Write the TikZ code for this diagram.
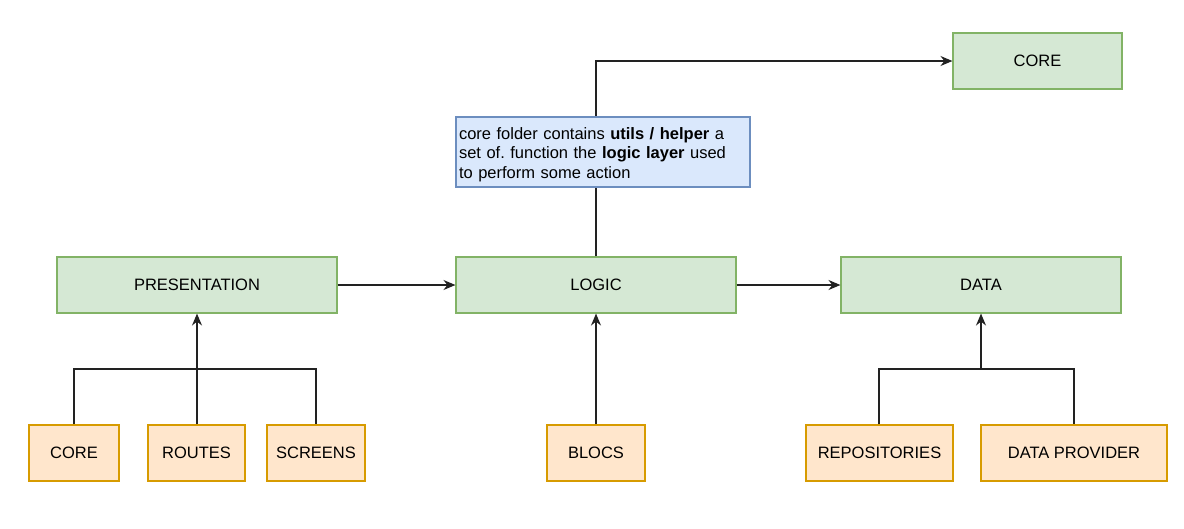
\documentclass[tikz,border=0pt]{standalone}
\usepackage{fontspec}
\setmainfont{Liberation Sans}
\usetikzlibrary{arrows.meta}
\definecolor{gfill}{HTML}{D5E8D4}
\definecolor{gline}{HTML}{82B366}
\definecolor{ofill}{HTML}{FFE6CC}
\definecolor{oline}{HTML}{D79B00}
\definecolor{bfill}{HTML}{DAE8FC}
\definecolor{bline}{HTML}{6C8EBF}
\definecolor{edge}{HTML}{222222}
\frenchspacing
\begin{document}
\begin{tikzpicture}[x=1pt,y=-1pt,
  box/.style={draw, line width=1.1pt, inner sep=0pt},
  green/.style={box, fill=gfill, draw=gline, minimum height=56pt, text depth=0pt, font=\fontsize{16.5}{19}\selectfont},
  orange/.style={box, fill=ofill, draw=oline, minimum height=56pt, text depth=0pt, font=\fontsize{16.5}{19}\selectfont},
  note/.style={box, fill=bfill, draw=bline, minimum width=294pt, minimum height=70pt, align=left, text width=288pt, font=\fontsize{16.5}{19.5}\selectfont},
  conn/.style={draw=edge, line width=1.5pt},
  arr/.style={conn, -{Stealth[length=12pt,width=10pt,inset=4pt]}}]
\useasboundingbox (0,0) rectangle (1184,528);
\node[green, minimum width=169pt] (core) at (1037.5,61) {CORE};
\node[green, minimum width=280pt] (pres) at (197,285) {PRESENTATION};
\node[green, minimum width=280pt] (logic) at (596,285) {LOGIC};
\node[green, minimum width=280pt] (data) at (981,285) {DATA};
\node[orange, minimum width=90pt] (pcore) at (74,453) {CORE};
\node[orange, minimum width=97pt] (routes) at (196.5,453) {ROUTES};
\node[orange, minimum width=98pt] (screens) at (316,453) {SCREENS};
\node[orange, minimum width=98pt] (blocs) at (596,453) {BLOCS};
\node[orange, minimum width=147pt] (repo) at (879.5,453) {REPOSITORIES};
\node[orange, minimum width=186pt] (prov) at (1074,453) {DATA PROVIDER};
\coordinate (lj) at (197,369);
\coordinate (rj) at (981,369);
\coordinate (rl) at (879,369);
\draw[conn] (pcore.north) |- (lj) -| (screens.north);
\draw[conn] (lj |- routes.north) -- (lj);
\draw[arr] (lj) -- (pres.south);
\draw[conn] (rl |- repo.north) -- (rl) -| (prov.north);
\draw[arr] (rj) -- (data.south);
\draw[arr] (blocs.north) -- (logic.south);
\draw[arr] (pres.east) -- (logic.west);
\draw[arr] (logic.east) -- (data.west);
\draw[arr] (logic.north) |- (core.west);
\node[note] (n) at (603,152) {\rule{0pt}{16.5pt}core folder contains \textbf{utils / helper} a\\set of. function the \textbf{logic layer} used\\to perform some action};
\end{tikzpicture}
\end{document}
